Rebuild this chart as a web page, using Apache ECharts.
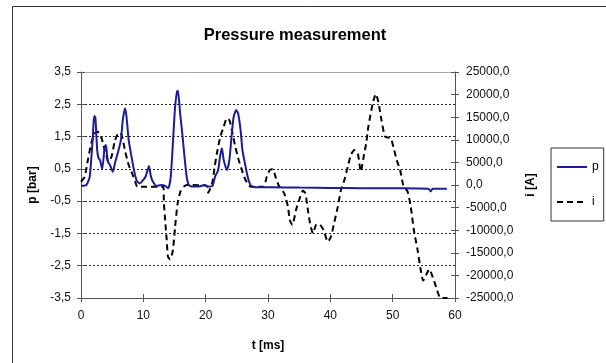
<!DOCTYPE html>
<html>
<head>
<meta charset="utf-8">
<script src="https://cdn.jsdelivr.net/npm/echarts@6/dist/echarts.min.js"></script>
<style>
  html, body { margin: 0; padding: 0; background: #fff; }
  #chart { width: 606px; height: 363px; }
</style>
</head>
<body>
<div id="chart"></div>
<script>
// pressure p [bar] over time t [ms]
const pTime = [0, 0.85, 1.4, 1.9, 2.1, 2.3, 2.6, 2.8, 3.05, 3.4, 3.8, 4.0, 4.3, 4.65, 5.1, 5.5, 5.9, 6.4, 6.7, 7.06,
  7.3, 7.65, 8.1, 8.5, 8.9, 9.4, 9.95, 10.4, 10.6, 10.9, 11.2, 11.55, 12.1, 12.9, 13.5, 14.0, 14.4, 14.8, 15.1, 15.4,
  15.56, 15.9, 16.3, 16.6, 16.95, 17.3, 17.8, 18.9, 19.8, 20.5, 21.1, 21.5, 22.0, 22.3, 22.6, 22.9, 23.4, 23.8, 24.2, 24.5,
  24.9, 25.2, 25.6, 25.9, 26.4, 26.8, 27.3, 28.5, 30.6, 35, 40, 45, 50, 54, 55.8, 56.1, 56.4, 58.7]
const pValues = [-0.03, 0, 0.26, 1.5, 2.14, 2.1, 1.08, 0.84, 0.77, 0.5, 1.19, 1.24, 0.72, 0.62, 0.41, 0.72, 0.99, 1.39, 2.01, 2.38,
  2.12, 1.39, 0.88, 0.46, 0.15, 0.05, 0.15, 0.28, 0.41, 0.59, 0.28, 0.1, -0.03, 0, -0.03, -0.1, 0.26, 1.5, 2.43, 2.89,
  2.92, 2.22, 1.5, 0.88, 0.26, 0, -0.05, -0.05, 0, -0.05, -0.03, 0.26, 0.46, 0.88, 1.14, 0.77, 0.46, 0.77, 1.6, 2.12,
  2.32, 2.22, 1.7, 1.08, 0.57, 0.21, -0.03, -0.07, -0.07, -0.08, -0.09, -0.1, -0.1, -0.11, -0.12, -0.2, -0.12, -0.12]

// current i [A] over time t [ms]
const iTime = [0, 0.6, 1.1, 1.65, 2.2, 2.7, 3.3, 3.8, 4.45, 4.9, 5.4, 5.8, 6.26, 6.6, 7.1, 7.65, 8.2, 8.7, 9.05, 13.2,
  13.3, 13.5, 13.75, 13.95, 14.3, 14.75, 15.1, 15.5, 15.95, 16.5, 17.0, 20.2, 20.4, 20.75, 21.1, 21.45, 21.8, 22.35, 22.9, 23.4,
  23.8, 24.2, 24.75, 25.3, 25.8, 26.4, 27.2, 29.3, 29.8, 30.3, 30.75, 31.2, 31.8, 32.6, 33.2, 33.5, 33.9, 34.5, 35.0, 35.6,
  36.0, 36.4, 36.75, 37.2, 37.7, 38.2, 38.9, 39.6, 40.1, 40.6, 41.2, 41.7, 42.25, 42.8, 43.3, 43.85, 44.4, 44.9, 45.3, 45.75,
  46.1, 46.8, 47.3, 47.7, 48.2, 48.8, 49.7, 50.1, 50.65, 51.2, 51.7, 52.4, 52.9, 53.4, 54.0, 54.5, 54.9, 55.5, 55.9, 56.4,
  56.95, 57.5, 57.9, 58.8]
const iValues = [700, 1840, 5530, 9220, 11430, 11800, 10330, 7740, 5160, 6260, 9580, 11060, 11650, 10680, 7370, 4420, 2580, 740, -370, -370,
  -4050, -7740, -12170, -15860, -16440, -14380, -9220, -4050, -1480, -370, 0, -200, -1700, -740, 740, 4050, 7010, 10680, 12900, 14750,
  14380, 12170, 8480, 5530, 3320, 1100, -370, -370, 1840, 3320, 3500, 1840, -370, -1840, -4790, -7740, -8850, -5530, -3320, -1260,
  -1840, -5530, -8480, -10680, -8850, -8630, -9950, -12540, -11430, -8480, -4790, -1100, 1100, 4050, 6640, 7740, 7010, 2950, 5900, 9220,
  12900, 18070, 20130, 18430, 14380, 10680, 10330, 8480, 5530, 3320, 0, -1480, -4790, -9950, -14380, -18800, -21170, -19530, -18650, -20280,
  -22490, -24700, -25000, -25000]

const commaFmt = v => v.toFixed(1).replace('.', ',')
const font = 'Liberation Sans, Arial, sans-serif'

const chart = echarts.init(document.getElementById('chart'))

const option = {
  animation: false,
  textStyle: { fontFamily: font },
  title: {
    text: 'Pressure measurement',
    left: 290,
    top: 22,
    textAlign: 'center',
    textStyle: { fontSize: 16.5, fontWeight: 'bold', color: '#000', fontFamily: font }
  },
  graphic: [
    {
      type: 'rect',
      shape: { x: 12.5, y: 6.5, width: 700, height: 500 },
      style: { fill: 'none', stroke: '#333', lineWidth: 1 },
      silent: true
    }
  ],
  legend: {
    orient: 'vertical',
    left: 551,
    top: 148,
    padding: [13, 5, 13, 5],
    itemWidth: 30,
    itemHeight: 14,
    itemGap: 23,
    borderColor: '#333',
    borderWidth: 1,
    itemStyle: { opacity: 0 },
    textStyle: { fontSize: 12, color: '#000', fontFamily: font },
    data: ['p', 'i']
  },
  grid: { left: 81, right: 151, top: 72, bottom: 65 },
  xAxis: [
    {
      type: 'value', min: 0, max: 60, interval: 10, position: 'bottom',
      axisLine: { onZero: false, lineStyle: { color: '#555', width: 1 } },
      axisTick: { inside: false, length: 4, lineStyle: { color: '#555' } },
      axisLabel: { margin: 12, fontSize: 12, color: '#111' },
      splitLine: { show: false },
      name: 't [ms]', nameLocation: 'middle', nameGap: 42,
      nameTextStyle: { fontSize: 12, fontWeight: 'bold', color: '#000' }
    },
    {
      type: 'value', min: 0, max: 60, interval: 10, position: 'bottom',
      axisLine: { show: false, onZero: false },
      axisTick: { inside: true, length: 4, lineStyle: { color: '#555' } },
      axisLabel: { show: false }, splitLine: { show: false }
    },
    {
      type: 'value', min: 0, max: 60, position: 'top',
      axisLine: { onZero: false, lineStyle: { color: '#aaa', width: 1 } },
      axisTick: { show: false }, axisLabel: { show: false }, splitLine: { show: false }
    }
  ],
  yAxis: [
    {
      type: 'value', min: -3.5, max: 3.5, interval: 1, position: 'left',
      axisLine: { show: true, onZero: false, lineStyle: { color: '#555' } },
      axisTick: { show: true, inside: false, length: 4, lineStyle: { color: '#555' } },
      axisLabel: { margin: 10, fontSize: 12, color: '#111', formatter: commaFmt },
      splitLine: { show: true, lineStyle: { color: '#222', width: 1, type: [2, 2] } },
      name: 'p [bar]', nameLocation: 'middle', nameGap: 42, nameRotate: 90,
      nameTextStyle: { fontSize: 12, fontWeight: 'bold', color: '#000' }
    },
    {
      type: 'value', min: -25000, max: 25000, interval: 5000, position: 'right',
      axisLine: { show: true, onZero: false, lineStyle: { color: '#555' } },
      axisTick: { show: true, inside: false, length: 4, lineStyle: { color: '#555' } },
      axisLabel: { margin: 11, fontSize: 12, color: '#111', formatter: commaFmt },
      splitLine: { show: false },
      name: 'i [A]', nameLocation: 'middle', nameGap: 69, nameRotate: 90,
      nameTextStyle: { fontSize: 12, fontWeight: 'bold', color: '#000' }
    },
    {
      type: 'value', min: -3.5, max: 3.5, interval: 1, position: 'left',
      axisLine: { show: false, onZero: false },
      axisTick: { show: true, inside: true, length: 4, lineStyle: { color: '#555' } },
      axisLabel: { show: false }, splitLine: { show: false }
    },
    {
      type: 'value', min: -25000, max: 25000, interval: 5000, position: 'right',
      axisLine: { show: false, onZero: false },
      axisTick: { show: true, inside: true, length: 4, lineStyle: { color: '#555' } },
      axisLabel: { show: false }, splitLine: { show: false }
    }
  ],
  series: [
    {
      name: 'p',
      type: 'line',
      xAxisIndex: 0,
      yAxisIndex: 0,
      symbol: 'none',
      smooth: 0.2,
      lineStyle: { color: '#1c1c96', width: 2 },
      itemStyle: { color: '#1c1c96' },
      data: pTime.map((t, k) => [t, pValues[k]]),
      z: 3
    },
    {
      name: 'i',
      type: 'line',
      xAxisIndex: 0,
      yAxisIndex: 1,
      symbol: 'none',
      smooth: 0.2,
      lineStyle: { color: '#000', width: 2, type: [6, 4] },
      itemStyle: { color: '#000' },
      data: iTime.map((t, k) => [t, iValues[k]]),
      z: 2
    }
  ]
}

chart.setOption(option)
</script>
</body>
</html>
